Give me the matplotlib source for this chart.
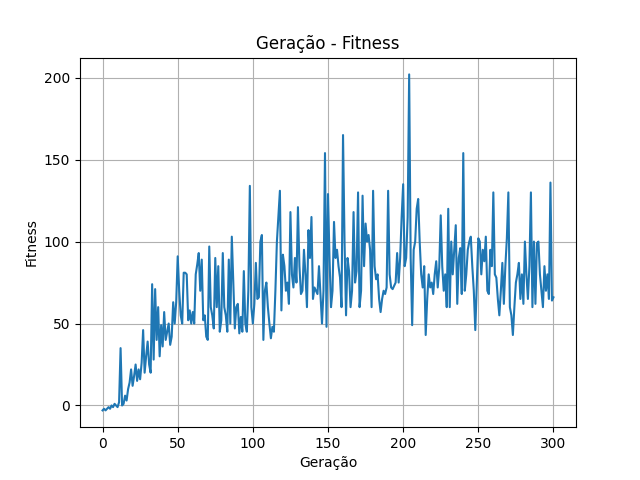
import matplotlib
matplotlib.use("Agg")
import matplotlib.pyplot as plt

# fitness por geração (aproximados)
fitness = [
    -3, -2, -3, -2, -1, -2, 0, -1, 1, 0,        # 0-9
    -1, 2, 35, 0, 1, 6, 3, 10, 14, 22,          # 10-19
    12, 18, 25, 15, 22, 16, 26, 46, 20, 30,     # 20-29
    39, 25, 20, 74, 28, 71, 40, 60, 30, 49,     # 30-39
    36, 57, 40, 45, 50, 37, 42, 63, 50, 63,     # 40-49
    91, 70, 55, 50, 81, 81, 80, 52, 58, 50,     # 50-59
    57, 50, 80, 86, 93, 70, 89, 52, 55, 42,     # 60-69
    40, 97, 60, 55, 47, 90, 60, 85, 45, 52,     # 70-79
    93, 60, 55, 45, 89, 50, 103, 75, 47, 60,    # 80-89
    62, 44, 54, 45, 82, 50, 45, 70, 134, 60,    # 90-99
    50, 62, 87, 65, 66, 100, 104, 40, 70, 75,   # 100-109
    60, 50, 41, 48, 45, 70, 100, 115, 131, 58,  # 110-119
    92, 85, 70, 75, 62, 118, 80, 72, 90, 75,    # 120-129
    121, 85, 68, 70, 95, 80, 60, 107, 90, 115,  # 130-139
    65, 72, 70, 68, 85, 68, 50, 70, 154, 48,    # 140-149
    129, 90, 60, 70, 112, 90, 95, 85, 78, 60,   # 150-159
    165, 100, 55, 90, 82, 60, 70, 118, 75, 82,  # 160-169
    130, 60, 70, 128, 85, 111, 100, 104, 95, 60, # 170-179
    131, 85, 77, 80, 65, 57, 65, 70, 68, 72,    # 180-189
    131, 80, 72, 71, 73, 75, 93, 75, 90, 115,   # 190-199
    135, 85, 90, 115, 202, 90, 49, 95, 100, 120, # 200-209
    126, 100, 80, 72, 85, 43, 65, 80, 72, 75,   # 210-219
    68, 80, 88, 72, 84, 116, 85, 70, 80, 60,    # 220-229
    120, 60, 100, 80, 95, 110, 62, 90, 96, 68,  # 230-239
    154, 70, 80, 95, 100, 103, 85, 70, 46, 75,  # 240-249
    102, 100, 80, 95, 88, 103, 70, 68, 95, 85,  # 250-259
    130, 80, 78, 65, 55, 70, 87, 62, 85, 102,   # 260-269
    130, 60, 55, 43, 60, 75, 80, 87, 65, 80,    # 270-279
    62, 100, 80, 65, 85, 130, 60, 100, 62, 99,  # 280-289
    100, 80, 70, 60, 85, 70, 80, 65, 136, 64,   # 290-299
    66,                                          # 300
]
geracoes = list(range(len(fitness)))

fig, ax = plt.subplots(figsize=(6.4, 4.8), dpi=100)
ax.plot(geracoes, fitness)
ax.set_title("Geração - Fitness")
ax.set_xlabel("Geração")
ax.set_ylabel("Fitness")
ax.grid(True)
fig.savefig("out.png")
